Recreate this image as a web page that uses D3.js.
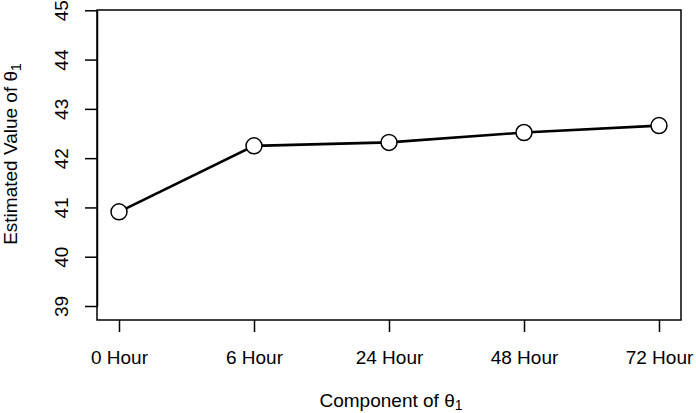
<!DOCTYPE html>
<html>
<head>
<meta charset="utf-8">
<script src="https://cdn.jsdelivr.net/npm/d3@7"></script>
<style>
  body { margin: 0; background: #fff; }
  text { font-family: "Liberation Sans", Arial, sans-serif; fill: #000; }
</style>
</head>
<body>
<div id="chart"></div>
<script>
const categories = ['0 Hour', '6 Hour', '24 Hour', '48 Hour', '72 Hour'];
const estimates = [40.91, 42.25, 42.32, 42.52, 42.66];
const yTicks = [39, 40, 41, 42, 43, 44, 45];

const width = 696, height = 413;
const box = { left: 97, right: 681, top: 10, bottom: 320 };

const svg = d3.select('#chart').append('svg')
  .attr('width', width)
  .attr('height', height);

const x = d3.scalePoint()
  .domain(categories)
  .range([119, 659]);

const y = d3.scaleLinear()
  .domain([39, 45])
  .range([306, 10.3]);

// plot frame
svg.append('rect')
  .attr('x', box.left).attr('y', box.top)
  .attr('width', box.right - box.left)
  .attr('height', box.bottom - box.top)
  .attr('fill', 'none')
  .attr('stroke', '#000')
  .attr('stroke-width', 1.5);

// y axis
const yAxis = svg.append('g')
  .attr('transform', `translate(${box.left},0)`)
  .call(d3.axisLeft(y).tickValues(yTicks).tickFormat(d3.format('d'))
    .tickSize(12).tickSizeOuter(0).tickPadding(0));
yAxis.select('.domain').attr('stroke-width', 1.5);
yAxis.selectAll('.tick line').attr('stroke-width', 1.5);
yAxis.selectAll('.tick text')
  .attr('x', null).attr('dy', null)
  .attr('transform', 'translate(-29,0) rotate(-90)')
  .attr('text-anchor', 'middle')
  .style('font-size', '19px')
  .style('font-family', '"Liberation Sans", Arial, sans-serif');

// x axis
const xAxis = svg.append('g')
  .attr('transform', `translate(0,${box.bottom})`)
  .call(d3.axisBottom(x).tickSize(12).tickSizeOuter(0).tickPadding(0));
xAxis.select('.domain').remove();
xAxis.selectAll('.tick line').attr('stroke-width', 1.5);
xAxis.selectAll('.tick text')
  .attr('y', 44).attr('dy', null)
  .style('font-size', '19px')
  .style('font-family', '"Liberation Sans", Arial, sans-serif');

// axis titles
const xt = svg.append('text')
  .attr('x', 391).attr('y', 407)
  .attr('text-anchor', 'middle')
  .style('font-size', '19px');
xt.append('tspan').text('Component of θ');
xt.append('tspan').attr('dy', 3).style('font-size', '14px').text('1');

const yt = svg.append('text')
  .attr('transform', 'translate(17,154) rotate(-90)')
  .attr('text-anchor', 'middle')
  .style('font-size', '19px');
yt.append('tspan').text('Estimated Value of θ');
yt.append('tspan').attr('dy', 4).style('font-size', '14px').text('1');

// series
const line = d3.line()
  .x((d, i) => x(categories[i]))
  .y(d => y(d));

svg.append('path')
  .datum(estimates)
  .attr('d', line)
  .attr('fill', 'none')
  .attr('stroke', '#000')
  .attr('stroke-width', 2.6);

svg.selectAll('.pt')
  .data(estimates)
  .enter().append('circle')
  .attr('class', 'pt')
  .attr('cx', (d, i) => x(categories[i]))
  .attr('cy', d => y(d))
  .attr('r', 8)
  .attr('fill', '#fff')
  .attr('stroke', '#000')
  .attr('stroke-width', 1.5);
</script>
</body>
</html>
